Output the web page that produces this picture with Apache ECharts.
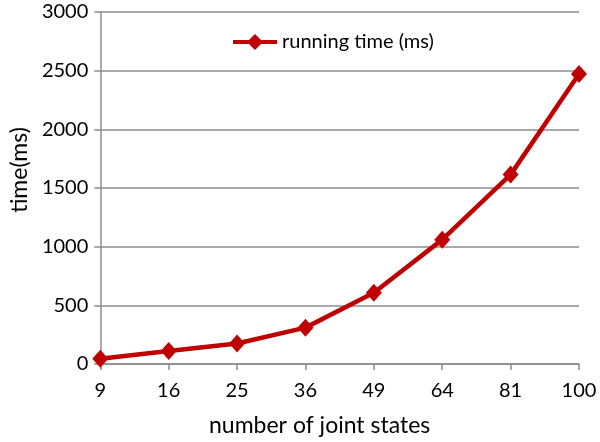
<!DOCTYPE html>
<html>
<head>
<meta charset="utf-8">
<script src="https://cdn.jsdelivr.net/npm/echarts@6/dist/echarts.min.js"></script>
<style>html,body{margin:0;padding:0;background:#fff}#c{width:600px;height:442px}</style>
</head>
<body>
<div id="c"></div>
<script>
var categories = ['9', '16', '25', '36', '49', '64', '81', '100'];
var runningTime = [45, 110, 175, 310, 607, 1060, 1614, 2472];
var seriesName = 'running time (ms)';
var xTitle = 'number of joint states';
var yTitle = 'time(ms)';

var chart = echarts.init(document.getElementById('c'), null, {renderer: 'canvas'});
var axisGray = '#8c8c8c';
var font = 'Lato';
chart.setOption({
  animation: false,
  backgroundColor: '#ffffff',
  grid: {left: 95, right: 21, top: 12, bottom: 77, containLabel: false},
  legend: {
    show: true,
    data: [seriesName],
    left: 226,
    top: 27,
    itemWidth: 44,
    itemHeight: 20,
    itemGap: 4,
    lineStyle: {width: 4},
    textStyle: {fontFamily: font, fontSize: 20, color: '#000'}
  },
  xAxis: {
    type: 'category',
    data: categories,
    boundaryGap: false,
    name: xTitle,
    nameLocation: 'middle',
    nameGap: 50,
    nameTextStyle: {fontFamily: font, fontSize: 23, color: '#000', padding: [0, 40, 0, 0]},
    axisLine: {lineStyle: {color: axisGray, width: 1.5}},
    axisTick: {show: true, alignWithLabel: true, length: 6, lineStyle: {color: axisGray, width: 1.5}},
    axisLabel: {fontFamily: font, fontSize: 20, color: '#000', margin: 17}
  },
  yAxis: {
    type: 'value',
    min: 0,
    max: 3000,
    interval: 500,
    name: yTitle,
    nameLocation: 'middle',
    nameGap: 68,
    nameTextStyle: {fontFamily: font, fontSize: 23, color: '#000', padding: [0, 0, 0, 36]},
    axisLine: {show: true, lineStyle: {color: axisGray, width: 1.5}},
    axisTick: {show: true, length: 6, lineStyle: {color: axisGray, width: 1.5}},
    axisLabel: {fontFamily: font, fontSize: 20, color: '#000', margin: 12, formatter: function (v) { return String(v); }},
    splitLine: {show: true, lineStyle: {color: axisGray, width: 1.5}}
  },
  series: [{
    name: seriesName,
    type: 'line',
    data: runningTime,
    symbol: 'diamond',
    symbolSize: [16, 18],
    showSymbol: true,
    lineStyle: {color: '#c00000', width: 4.5},
    itemStyle: {color: '#c00000'}
  }]
});
</script>
</body>
</html>
